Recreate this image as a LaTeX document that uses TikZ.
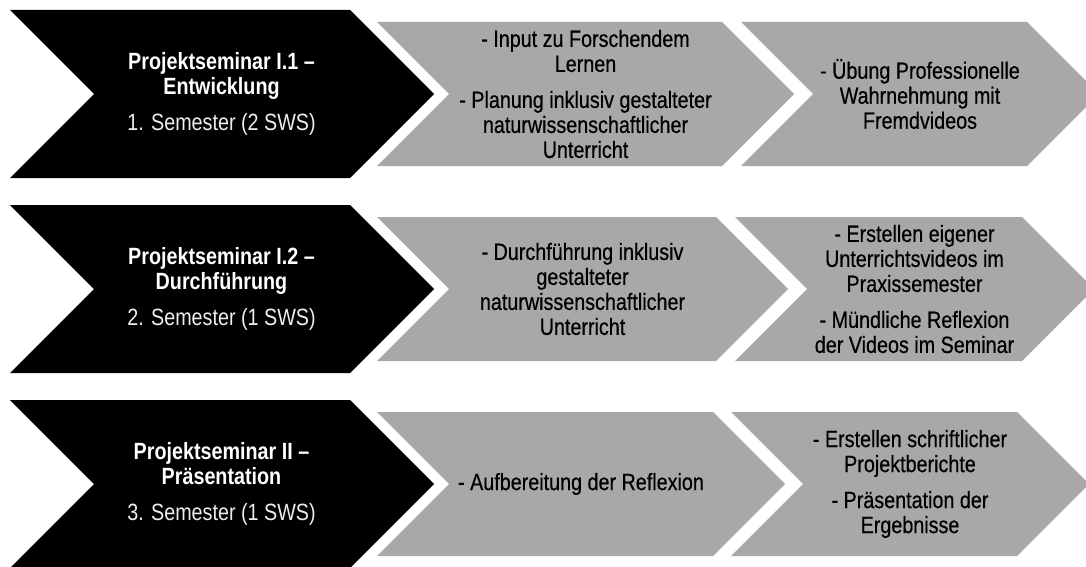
\documentclass[tikz,border=0pt]{standalone}
\usepackage{fontspec}
\setmainfont[FakeStretch=0.84]{Liberation Sans}
\newfontfamily\bodyfont[FakeStretch=0.84,FakeBold=0.5]{Liberation Sans}
\definecolor{chevgray}{HTML}{A8A8A8}
\definecolor{subwhite}{HTML}{EEEEEE}
\newcommand\chevshape[5]{%
  \fill[#5] (#1,#3-#2) -- (#4,#3-#2) -- (#4+#2,#3) -- (#4,#3+#2) -- (#1,#3+#2) -- (#1+#2,#3) -- cycle;}
\newcommand\ttl[1]{\textbf{#1}}
\newcommand\sem[1]{\textcolor{subwhite}{#1}}
\tikzset{
  titletext/.style={text=white, align=center, inner sep=0pt, font=\fontsize{23.5}{25}\selectfont},
  bodytext/.style={text=black, align=center, inner sep=0pt, font=\bodyfont\fontsize{23.5}{25}\selectfont},
}
\begin{document}
\begin{tikzpicture}[x=1pt,y=-1pt]
\useasboundingbox (0,0) rectangle (1086,567);
\clip (0,0) rectangle (1086,567);
% row 1
\chevshape{10}{84}{94}{350}{black}
\chevshape{377}{72}{94}{722}{chevgray}
\chevshape{741}{72}{94}{1027}{chevgray}
% row 2
\chevshape{10}{84}{289}{350}{black}
\chevshape{377}{72}{289}{716}{chevgray}
\chevshape{735}{72}{289}{1022}{chevgray}
% row 3
\chevshape{10}{84}{484}{350}{black}
\chevshape{377}{72}{484}{713}{chevgray}
\chevshape{731}{72}{484}{1017}{chevgray}
% texts row 1
\node[titletext] (t1) at (221.5,94) {\ttl{Projektseminar I.1 –}\\\ttl{Entwicklung}\\[11pt]\sem{1. Semester (2 SWS)}};
\node[bodytext] (a1) at (585.5,94) {- Input zu Forschendem\\Lernen\\[11pt]- Planung inklusiv gestalteter\\naturwissenschaftlicher\\Unterricht};
\node[bodytext] (b1) at (920,94) {- Übung Professionelle\\Wahrnehmung mit\\Fremdvideos};
% texts row 2
\node[titletext] (t2) at (221.5,289) {\ttl{Projektseminar I.2 –}\\\ttl{Durchführung}\\[11pt]\sem{2. Semester (1 SWS)}};
\node[bodytext] (a2) at (582.5,289) {- Durchführung inklusiv\\gestalteter\\naturwissenschaftlicher\\Unterricht};
\node[bodytext] (b2) at (914.5,289) {- Erstellen eigener\\Unterrichtsvideos im\\Praxissemester\\[11pt]- Mündliche Reflexion\\der Videos im Seminar};
% texts row 3
\node[titletext] (t3) at (221.5,484) {\ttl{Projektseminar II –}\\\ttl{Präsentation}\\[11pt]\sem{3. Semester (1 SWS)}};
\node[bodytext] (a3) at (581,484) {- Aufbereitung der Reflexion};
\node[bodytext] (b3) at (910,484) {- Erstellen schriftlicher\\Projektberichte\\[11pt]- Präsentation der\\Ergebnisse};
\end{tikzpicture}
\end{document}
